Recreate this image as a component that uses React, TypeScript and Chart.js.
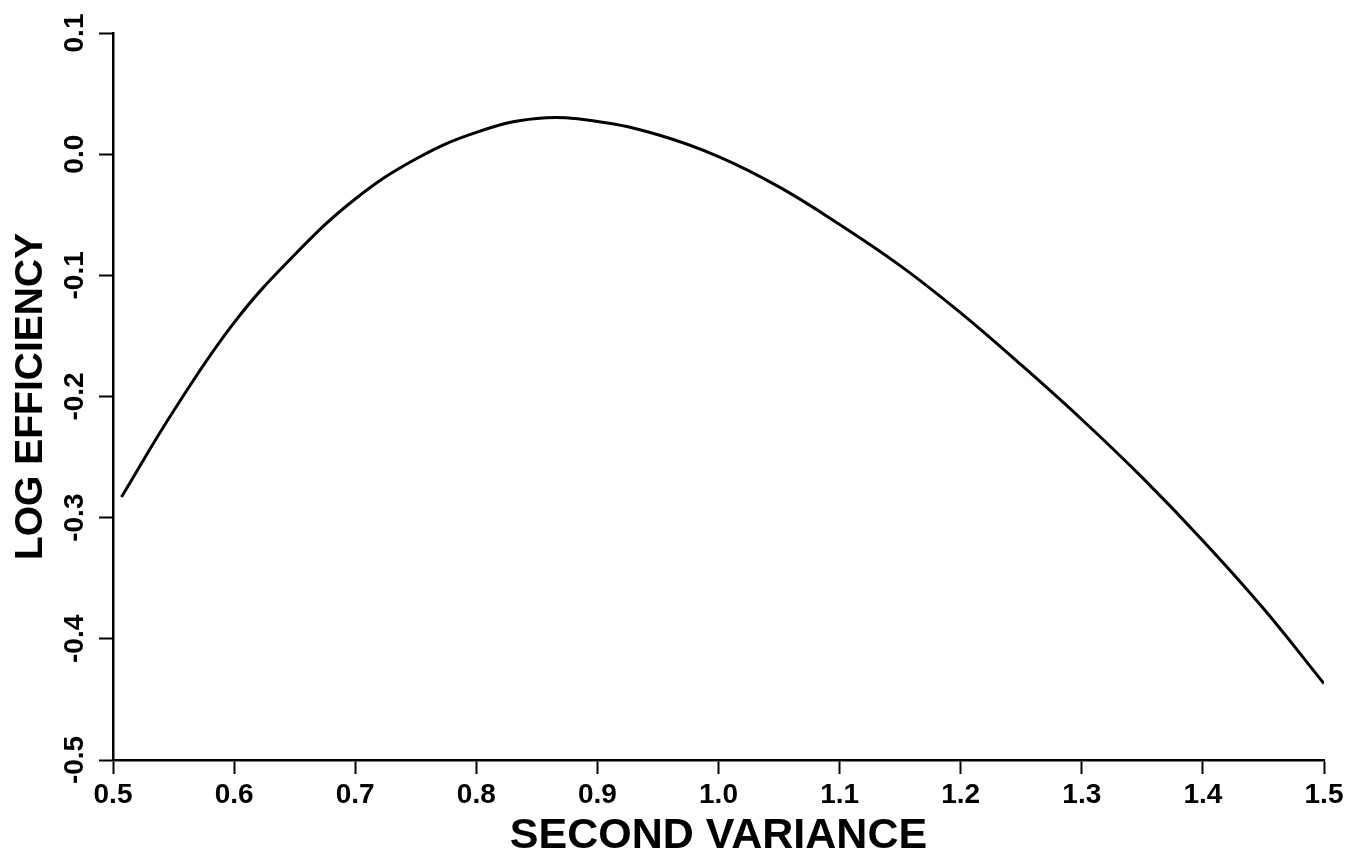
import React, { useEffect, useRef } from "react";
import { Chart, registerables } from "chart.js";

Chart.register(...registerables);

const secondVariance = [0.507, 0.55, 0.6, 0.65, 0.7, 0.75, 0.8, 0.85, 0.9, 0.95, 1.0, 1.05, 1.1, 1.15, 1.2, 1.25, 1.3, 1.35, 1.4, 1.45, 1.5];
const logEfficiency = [-0.283, -0.212, -0.139, -0.083, -0.037, -0.004, 0.018, 0.0295, 0.027, 0.016, -0.002, -0.027, -0.058, -0.092, -0.131, -0.174, -0.219, -0.267, -0.319, -0.375, -0.437];

const xTickValues = [0.5, 0.6, 0.7, 0.8, 0.9, 1.0, 1.1, 1.2, 1.3, 1.4, 1.5];
const xTickLabels = ["0.5", "0.6", "0.7", "0.8", "0.9", "1.0", "1.1", "1.2", "1.3", "1.4", "1.5"];
const yTickValues = [-0.5, -0.4, -0.3, -0.2, -0.1, 0.0, 0.1];
const yTickLabels = ["-0.5", "-0.4", "-0.3", "-0.2", "-0.1", "0.0", "0.1"];

const FONT = "'Liberation Sans', Arial, Helvetica, sans-serif";

export default function App() {
  const ref = useRef<HTMLCanvasElement | null>(null);

  useEffect(() => {
    if (!ref.current) return;
    const points = secondVariance.map((x, i) => ({ x, y: logEfficiency[i] }));
    const chart = new Chart(ref.current, {
      type: "scatter",
      data: {
        datasets: [
          {
            data: points,
            showLine: true,
            borderColor: "#000",
            borderWidth: 3,
            pointRadius: 0,
            tension: 0.4,
            fill: false,
          },
        ],
      },
      options: {
        animation: false,
        responsive: true,
        maintainAspectRatio: false,
        layout: { padding: { top: 33, right: 40, left: 0, bottom: 0 } },
        plugins: { legend: { display: false }, tooltip: { enabled: false } },
        scales: {
          x: {
            type: "linear",
            min: 0.5,
            max: 1.5,
            afterBuildTicks: (s: any) => {
              s.ticks = xTickValues.map((v) => ({ value: v }));
            },
            afterFit: (s: any) => {
              s.height = 102;
            },
            border: { display: true, color: "#000", width: 2.5 },
            grid: { drawOnChartArea: false, color: "#000", tickLength: 14, tickWidth: 2 },
            ticks: {
              color: "#000",
              padding: 7,
              maxRotation: 0,
              minRotation: 0,
              autoSkip: false,
              font: { family: FONT, size: 28, weight: "bold", lineHeight: 1 },
              callback: (v: any) => {
                const i = xTickValues.findIndex((t) => Math.abs(t - Number(v)) < 1e-6);
                return i >= 0 ? xTickLabels[i] : "";
              },
            },
            title: {
              display: true,
              text: "SECOND VARIANCE",
              color: "#000",
              font: { family: FONT, size: 43, weight: "bold", lineHeight: 1 },
              padding: { top: 0, bottom: 4 },
            },
          },
          y: {
            type: "linear",
            min: -0.5,
            max: 0.1,
            afterBuildTicks: (s: any) => {
              s.ticks = yTickValues.map((v) => ({ value: v }));
            },
            afterFit: (s: any) => {
              s.width = 113;
            },
            border: { display: true, color: "#000", width: 2.5 },
            grid: { drawOnChartArea: false, color: "#000", tickLength: 14, tickWidth: 2 },
            ticks: {
              color: "#000",
              padding: 0,
              minRotation: 90,
              maxRotation: 90,
              crossAlign: "center",
              autoSkip: false,
              font: { family: FONT, size: 28, weight: "bold", lineHeight: 1 },
              callback: (v: any) => {
                const i = yTickValues.findIndex((t) => Math.abs(t - Number(v)) < 1e-6);
                return i >= 0 ? yTickLabels[i] : "";
              },
            },
            title: {
              display: true,
              text: "LOG EFFICIENCY",
              color: "#000",
              font: { family: FONT, size: 39, weight: "bold", lineHeight: 1 },
              padding: { top: 12, bottom: 0 },
            },
          },
        },
      },
    } as any);
    return () => chart.destroy();
  }, []);

  return (
    <div style={{ position: "fixed", left: 0, top: 0, width: 1364, height: 862, background: "#fff" }}>
      <canvas ref={ref} />
    </div>
  );
}
